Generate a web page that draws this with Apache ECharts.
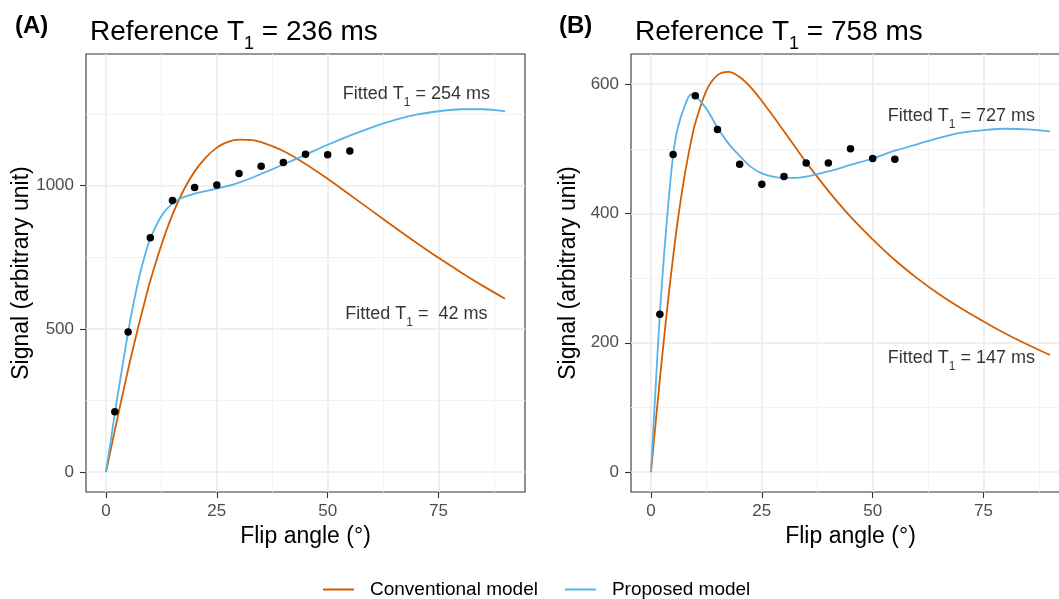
<!DOCTYPE html>
<html>
<head>
<meta charset="utf-8">
<title>Flip angle fits</title>
<script src="https://cdn.jsdelivr.net/npm/echarts@6/dist/echarts.min.js"></script>
<style>
  html, body { margin: 0; padding: 0; background: #fff; }
  #chart { width: 1059px; height: 599px; }
</style>
</head>
<body>
<div id="chart"></div>
<script>
const curveAngles = [0, 1, 2, 3, 4, 5, 6, 7.5, 9, 10, 12.5, 15, 17.5, 20, 22.5, 25, 27.5, 30, 32.5, 35, 40, 45, 50, 55, 60, 65, 70, 75, 80, 85, 90];
// panel A (reference T1 = 236 ms)
const convA = [0, 72, 145, 217, 287, 358, 424, 520, 610, 668, 793, 899, 984, 1050, 1098, 1133, 1153, 1161, 1160, 1152, 1121, 1076, 1024, 968, 912, 856, 801, 748, 698, 650, 605];
const propA = [0, 100, 205, 302, 396, 488, 572, 681, 768, 815, 894, 938, 960, 972, 981, 990, 999, 1011, 1025, 1041, 1074, 1108, 1143, 1175, 1204, 1229, 1248, 1260, 1267, 1267, 1260];
// panel B (reference T1 = 758 ms)
const convB = [0, 72, 143, 210, 274, 333, 387, 455, 510, 540, 590, 614, 619, 611, 595, 574, 551, 527, 503, 479, 435, 395, 360, 328, 300, 275, 253, 233, 214, 197, 181];
const propB = [0, 125, 244, 340, 422, 490, 531, 564, 584, 582, 562, 533, 508, 489, 472, 462, 457, 455, 455, 457, 465, 475, 485, 497, 507, 517, 525, 529, 531, 530, 527];
// measured points
const measAngles = [2, 5, 10, 15, 20, 25, 30, 35, 40, 45, 50, 55];
const measA = [210, 489, 818, 948, 994, 1002, 1043, 1068, 1081, 1110, 1108, 1121];
const measB = [244, 491, 582, 530, 476, 445, 457, 478, 478, 500, 485, 484];
// T1 values shown as text
const panelLetters = ['(A)', '(B)'];
const refT1 = [236, 758];
const fitProp = [254, 727];
const fitConv = [' 42', 147];
const seriesNames = ['Conventional model', 'Proposed model'];

const font = 'Liberation Sans, Arial, Helvetica, sans-serif';
const convColor = '#D55E00';
const propColor = '#56B4E9';

const pairs = (xs, ys) => xs.map((x, i) => [x, ys[i]]);

const gridLeft = [86, 631];
const yMax = [1460, 646.6];
const yMin = [-70, -30.8];
const yTicks = [[0, 500, 1000], [0, 200, 400, 600]];
const annotY = [[1321, 553], [551, 177]];

const rich = {
  n: { fontSize: 18, color: '#000', fontFamily: font, lineHeight: 22 },
  s: { fontSize: 12, color: '#000', fontFamily: font, lineHeight: 30, verticalAlign: 'bottom' }
};
const titleRich = {
  m: { fontSize: 28, color: '#000', fontFamily: font, fontWeight: 'normal', lineHeight: 32 },
  s: { fontSize: 18, color: '#000', fontFamily: font, fontWeight: 'normal', lineHeight: 42, verticalAlign: 'bottom' }
};

let grids = [], xAxes = [], yAxes = [], series = [], titles = [];
for (let g = 0; g < 2; g++) {
  grids.push({ left: gridLeft[g], top: 54, width: 439, height: 438, show: true,
    borderColor: '#333', borderWidth: 1.1, backgroundColor: 'transparent', outerBoundsMode: 'none' });
  xAxes.push({
    gridIndex: g, type: 'value', min: -4.5, max: 94.5,
    name: 'Flip angle (°)', nameLocation: 'middle', nameGap: 33, nameMoveOverlap: false,
    nameTextStyle: { fontSize: 23, color: '#000', fontFamily: font },
    axisLine: { show: false, onZero: false },
    axisTick: { show: true, length: 6, customValues: [0, 25, 50, 75], lineStyle: { color: '#333', width: 1.1 } },
    axisLabel: { customValues: [0, 25, 50, 75], color: '#4d4d4d', fontSize: 17, margin: 11, fontFamily: font },
    splitLine: { show: true, lineStyle: { color: '#ebebeb', width: 1.6 } }
  });
  // second x axis only for the minor vertical grid lines
  xAxes.push({
    gridIndex: g, type: 'value', min: -4.5, max: 94.5, position: 'bottom',
    axisLine: { show: false, onZero: false }, axisLabel: { show: false },
    axisTick: { show: false, customValues: [12.5, 37.5, 62.5, 87.5] },
    splitLine: { show: true, lineStyle: { color: '#f2f2f2', width: 1 } }
  });
  yAxes.push({
    gridIndex: g, type: 'value', min: yMin[g], max: yMax[g], splitNumber: 3,
    name: 'Signal (arbitrary unit)', nameLocation: 'middle', nameGap: g === 0 ? 53 : 51, nameMoveOverlap: false,
    nameTextStyle: { fontSize: 23, color: '#000', fontFamily: font },
    axisLine: { show: false, onZero: false },
    axisTick: { show: true, length: 6, customValues: yTicks[g], lineStyle: { color: '#333', width: 1.1 } },
    axisLabel: { customValues: yTicks[g], formatter: v => String(v), color: '#4d4d4d', fontSize: 17, margin: 12, fontFamily: font },
    splitLine: { show: true, lineStyle: { color: '#ebebeb', width: 1.6 } },
    minorTick: { show: false, splitNumber: 2 },
    minorSplitLine: { show: true, lineStyle: { color: '#f2f2f2', width: 1 } }
  });

  const conv = g === 0 ? convA : convB;
  const prop = g === 0 ? propA : propB;
  const meas = g === 0 ? measA : measB;
  series.push({
    name: seriesNames[0], type: 'line', xAxisIndex: g * 2, yAxisIndex: g,
    data: pairs(curveAngles, conv), smooth: 0.3, symbol: 'none',
    lineStyle: { color: convColor, width: 1.8 }, itemStyle: { color: convColor }, z: 3
  });
  series.push({
    name: seriesNames[1], type: 'line', xAxisIndex: g * 2, yAxisIndex: g,
    data: pairs(curveAngles, prop), smooth: 0.3, symbol: 'none',
    lineStyle: { color: propColor, width: 1.8 }, itemStyle: { color: propColor }, z: 3
  });
  series.push({
    name: 'Measured', type: 'scatter', xAxisIndex: g * 2, yAxisIndex: g,
    data: pairs(measAngles, meas), symbolSize: 7.5, itemStyle: { color: '#000', opacity: 1 }, z: 4
  });
  series.push({
    name: 'labels', type: 'scatter', xAxisIndex: g * 2, yAxisIndex: g, silent: true,
    symbolSize: 1, itemStyle: { color: 'rgba(0,0,0,0)' }, z: 5,
    label: { show: true, position: 'inside', rich: rich },
    data: [
      { value: [70, annotY[g][0]], label: { formatter: '{n|Fitted T}{s|1}{n| = ' + fitProp[g] + ' ms}' } },
      { value: [70, annotY[g][1]], label: { formatter: '{n|Fitted T}{s|1}{n| = ' + fitConv[g] + ' ms}' } }
    ]
  });

  titles.push({ text: panelLetters[g], left: g === 0 ? 10 : 554, top: 9,
    textStyle: { fontSize: 24, fontWeight: 'bold', color: '#000', fontFamily: font } });
  titles.push({ text: '{m|Reference T}{s|1}{m| = ' + refT1[g] + ' ms}', left: gridLeft[g] - 1, top: 6,
    textStyle: { rich: titleRich } });
}

const chart = echarts.init(document.getElementById('chart'));
chart.setOption({
  animation: false,
  backgroundColor: '#fff',
  title: titles,
  legend: {
    data: seriesNames, left: 318, top: 575, icon: 'rect', itemWidth: 31, itemHeight: 2, itemGap: 27,
    textStyle: { fontSize: 19, color: '#000', fontFamily: font, padding: [0, 0, 0, 11] }
  },
  grid: grids,
  xAxis: xAxes,
  yAxis: yAxes,
  series: series
});
</script>
</body>
</html>
